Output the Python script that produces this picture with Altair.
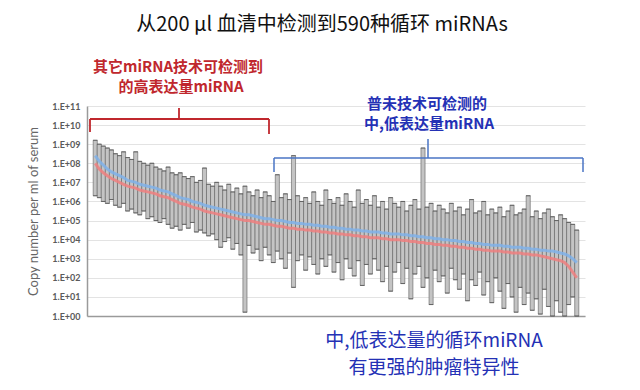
import altair as alt
import pandas as pd

# log10 of copy number per ml of serum, miRNAs sorted by abundance
mean_log = [
    8.4, 8.1, 7.9, 7.7, 7.55, 7.45, 7.35, 7.25, 7.1, 7.05,
    7.0, 6.9, 6.85, 6.8, 6.75, 6.7, 6.6, 6.55, 6.5, 6.4,
    6.3, 6.2, 6.15, 6.1, 6.0, 5.95, 5.9, 5.8, 5.75, 5.7,
    5.65, 5.6, 5.55, 5.5, 5.45, 5.4, 5.35, 5.3, 5.3, 5.25,
    5.2, 5.15, 5.1, 5.1, 5.05, 5.0, 5.0, 4.95, 4.9, 4.9,
    4.85, 4.85, 4.8, 4.8, 4.75, 4.75, 4.7, 4.7, 4.65, 4.65,
    4.6, 4.6, 4.55, 4.55, 4.5, 4.5, 4.45, 4.45, 4.4, 4.4,
    4.4, 4.35, 4.35, 4.3, 4.3, 4.3, 4.25, 4.25, 4.2, 4.2,
    4.15, 4.15, 4.1, 4.1, 4.05, 4.05, 4.0, 4.0, 3.95, 3.95,
    3.9, 3.9, 3.85, 3.85, 3.8, 3.8, 3.75, 3.75, 3.7, 3.7,
    3.7, 3.65, 3.65, 3.6, 3.6, 3.6, 3.55, 3.55, 3.5, 3.5,
    3.45, 3.45, 3.4, 3.4, 3.35, 3.3, 3.25, 3.15, 3.0, 2.8,
]
median_log = [
    8.0, 7.7, 7.5, 7.35, 7.2, 7.1, 7.0, 6.9, 6.8, 6.75,
    6.7, 6.6, 6.55, 6.5, 6.45, 6.4, 6.3, 6.25, 6.2, 6.1,
    6.0, 5.9, 5.85, 5.8, 5.7, 5.65, 5.6, 5.5, 5.45, 5.4,
    5.35, 5.3, 5.25, 5.2, 5.15, 5.1, 5.05, 5.0, 5.0, 4.95,
    4.9, 4.85, 4.8, 4.8, 4.75, 4.7, 4.7, 4.65, 4.6, 4.6,
    4.55, 4.55, 4.5, 4.5, 4.45, 4.45, 4.4, 4.4, 4.35, 4.35,
    4.3, 4.3, 4.25, 4.25, 4.2, 4.2, 4.15, 4.15, 4.1, 4.1,
    4.1, 4.05, 4.05, 4.0, 4.0, 4.0, 3.95, 3.95, 3.9, 3.9,
    3.85, 3.85, 3.8, 3.8, 3.75, 3.75, 3.7, 3.7, 3.65, 3.65,
    3.6, 3.6, 3.55, 3.55, 3.5, 3.5, 3.45, 3.45, 3.4, 3.4,
    3.4, 3.35, 3.35, 3.3, 3.3, 3.3, 3.25, 3.25, 3.2, 3.2,
    3.15, 3.1, 3.05, 3.0, 2.95, 2.9, 2.8, 2.6, 2.3, 2.0,
]
high_log = [
    9.2, 9.0, 8.9, 8.8, 8.7, 8.5, 8.4, 8.6, 8.3, 8.2,
    8.6, 8.1, 8.0, 7.9, 8.0, 7.8, 7.7, 7.6, 7.8, 7.5,
    7.4, 7.5, 7.3, 7.2, 7.3, 7.0, 7.1, 7.75, 6.9, 6.8,
    7.0, 6.8, 6.6, 6.9, 6.5, 6.7, 6.4, 6.8, 6.5, 6.3,
    6.6, 6.2, 6.5, 6.3, 6.0, 7.4, 6.2, 6.4, 6.1, 8.4,
    6.3, 6.0, 6.2, 5.9, 6.5, 6.0, 5.8, 6.6, 6.1, 5.9,
    6.2, 5.8, 6.4, 6.0, 5.7, 6.6, 5.9, 6.1, 5.8, 6.3,
    5.7, 6.0, 5.6, 6.2, 5.9, 5.7, 6.0, 5.5, 5.8, 6.1,
    5.6, 8.8, 5.7, 5.9, 5.5, 5.8, 5.6, 5.4, 5.9, 5.5,
    5.7, 5.3, 5.6, 6.1, 5.4, 5.5, 6.0, 5.3, 5.6, 5.4,
    5.7, 5.2, 5.5, 5.8, 5.3, 5.4, 5.6, 6.3, 5.2, 5.5,
    5.1, 5.4, 5.6, 5.2, 5.0, 5.3, 5.1, 4.9, 4.8, 4.5,
]
low_log = [
    6.3, 6.2, 6.0, 5.9, 6.1, 5.8, 5.7, 5.9, 5.5, 5.6,
    5.4, 5.3, 5.5, 5.1, 5.2, 5.0, 4.9, 5.1, 4.8, 4.6,
    4.7, 4.5, 4.8, 4.6, 4.9, 4.4, 4.5, 4.35, 4.2, 4.3,
    4.0, 3.6, 3.9, 4.1, 3.5, 3.8, 3.2, 0.2, 3.7, 3.3,
    3.5, 2.9, 3.6, 3.2, 2.8, 3.4, 3.0, 2.5, 3.3, 1.5,
    2.9, 3.2, 2.4, 3.1, 2.7, 2.2, 3.0, 2.6, 3.2, 2.3,
    2.8, 1.9, 3.0, 2.5, 2.1, 2.9, 1.6, 2.7, 2.2, 3.0,
    2.4, 1.8, 2.6, 1.3, 2.3, 2.8, 1.7, 2.5, 0.9, 2.2,
    2.6, 1.5, 2.0, 0.6, 2.4, 1.8, 2.1, 1.2, 2.5, 1.9,
    1.4, 2.2, 0.8, 1.9, 1.6, 2.3, 1.1, 1.8, 0.7, 2.0,
    1.3, 0.4, 1.7, 1.0, 0.2, 1.5, 0.6, 1.2, 0.3, 0.9,
    0.1, 1.4, 0.5, 0.0, 0.8, 0.2, 0.0, 0.6, 1.0, 0.0,
]
y_ticks = [10 ** k for k in range(0, 12)]

title_text = "从200 µl 血清中检测到590种循环 miRNAs"
red_lines = ["其它miRNA技术可检测到", "的高表达量miRNA"]
blue_lines = ["普未技术可检测的", "中,低表达量miRNA"]
bottom_lines = ["中,低表达量的循环miRNA", "有更强的肿瘤特异性"]
y_title = "Copy number per ml of serum"

n = len(mean_log)
df = pd.DataFrame({
    "i": list(range(n)),
    "mean": [10 ** v for v in mean_log],
    "median": [10 ** v for v in median_log],
    "low": [10 ** v for v in low_log],
    "high": [10 ** v for v in high_log],
})

W, H = 498, 210
x_scale = alt.Scale(domain=[-0.8, n - 0.2], nice=False, zero=False)
y_scale = alt.Scale(type="log", domain=[1, 1e11], nice=False)

x_axis = alt.Axis(labels=False, ticks=False, grid=False, title=None,
                  domainColor="#9a9a9a", domainWidth=1.5)
y_axis = alt.Axis(values=y_ticks, title=y_title, ticks=False,
                  labelExpr="'1.E+' + (round(log(datum.value)/LN10) < 10 ? '0' : '') + round(log(datum.value)/LN10)",
                  labelFont="Lato", labelFontSize=9, labelFontWeight="bold",
                  labelColor="#5a5a5a", labelPadding=7,
                  titleFont="Lato", titleFontSize=13, titleFontWeight="normal", titleColor="#666666",
                  titleX=-54, titleY=H / 2, titleAngle=-90, titleBaseline="middle",
                  gridColor="#e3e3e3", domainColor="#9a9a9a", domainWidth=1.5)

base = alt.Chart(df)
X = alt.X("i:Q", scale=x_scale, axis=x_axis)

bars = base.mark_bar(width=4.1, color="#c4c4c4", stroke="#5e5e5e", strokeWidth=0.6).encode(
    x=X, y=alt.Y("low:Q", scale=y_scale, axis=y_axis), y2="high:Q")
cap_hi = base.mark_tick(orient="horizontal", size=4.5, thickness=1, color="#505050").encode(
    x=X, y=alt.Y("high:Q", scale=y_scale))
cap_lo = base.mark_tick(orient="horizontal", size=4.5, thickness=1, color="#505050").encode(
    x=X, y=alt.Y("low:Q", scale=y_scale))
line_red = base.mark_line(color="#f07f7f", strokeWidth=3, opacity=0.85).encode(
    x=X, y=alt.Y("median:Q", scale=y_scale))
line_blue = base.mark_line(color="#7fb2ea", strokeWidth=3, opacity=0.85).encode(
    x=X, y=alt.Y("mean:Q", scale=y_scale))

one = pd.DataFrame({"k": [0]})


def text(t, x, y, size, color, weight="normal", font="Noto Sans CJK SC"):
    return alt.Chart(one).mark_text(text=t, font=font, fontSize=size, fontWeight=weight,
                                    color=color, align="center", baseline="middle").encode(
        x=alt.value(x), y=alt.value(y))


def rule(x1, x2, y1, y2, color, w=1.8):
    return alt.Chart(one).mark_rule(color=color, strokeWidth=w).encode(
        x=alt.value(x1), x2=alt.value(x2), y=alt.value(y1), y2=alt.value(y2))


RED = "#c0272d"
BLUE_T = "#2431b5"
BLUE_B = "#4a74c4"

annots = [
    text(title_text, 235, -81, 20, "#111111"),
    text(red_lines[0], 91, -39, 15, RED, "bold"),
    text(red_lines[1], 94, -19, 15, RED, "bold"),
    text(blue_lines[0], 340, -2, 15, BLUE_T, "bold"),
    text(blue_lines[1], 342, 18, 15, BLUE_T, "bold"),
    text(bottom_lines[0], 347, 235, 19, BLUE_T),
    text(bottom_lines[1], 347, 262, 19, BLUE_T),
    # red bracket
    rule(3, 182, 13, 13, RED),
    rule(3, 3, 13, 26, RED),
    rule(182, 182, 13, 28, RED),
    rule(92, 92, 2, 13, RED),
    # blue bracket
    rule(187, 496, 52, 52, BLUE_B, 1.5),
    rule(187, 187, 52, 66, BLUE_B, 1.5),
    rule(496, 496, 52, 66, BLUE_B, 1.5),
    rule(341, 341, 33, 52, BLUE_B, 1.5),
]

chart = alt.layer(bars, cap_hi, cap_lo, line_red, line_blue, *annots).properties(
    width=W, height=H,
    autosize=alt.AutoSizeParams(type="none"),
    padding={"left": 79, "top": 98, "right": 47, "bottom": 66},
).configure_view(stroke=None)

chart.save("out.html", embed_options={"renderer": "svg", "actions": False})
